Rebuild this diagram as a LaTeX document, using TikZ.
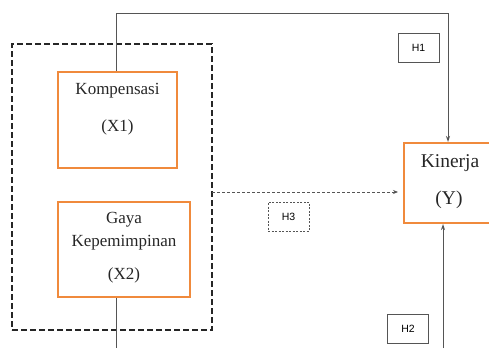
\documentclass[tikz,border=0pt]{standalone}
\usepackage{fontspec}
\setmainfont{Liberation Serif}
\newfontfamily\hfont{Liberation Sans}
\usetikzlibrary{arrows.meta}
\definecolor{boxorange}{HTML}{F08A3C}
\definecolor{linegray}{HTML}{555555}
\tikzset{
  varbox/.style={draw=boxorange, line width=2pt, inner sep=0pt},
  hbox/.style={draw=linegray, line width=0.8pt, inner sep=0pt, minimum width=41pt, minimum height=29pt, font=\hfont\fontsize{10.5}{12}\selectfont},
  conn/.style={draw=linegray, line width=1pt},
  lbl/.style={inner sep=0pt, font=\fontsize{17}{20}\selectfont, text=black!85},
  lblbig/.style={inner sep=0pt, font=\fontsize{19.5}{22}\selectfont, text=black!85},
}
\begin{document}
\begin{tikzpicture}[x=1pt,y=-1pt]
\useasboundingbox (0,0) rectangle (489,348);
% outer dashed group
\node[draw=black!85, line width=2.4pt, dash pattern=on 6pt off 3pt, minimum width=200pt, minimum height=286pt, inner sep=0pt] (grp) at (112,187) {};
% variable boxes
\node[varbox, minimum width=119pt, minimum height=96pt] (komp) at (117.5,120) {};
\node[varbox, minimum width=132pt, minimum height=95pt] (gaya) at (124,249.5) {};
\node[varbox, minimum width=88pt, minimum height=80pt] (kin) at (448,183) {};
% texts
\node[lbl] (t1) at (117.5,91) {Kompensasi};
\node[lbl] (t2) at (117.5,127) {(X1)};
\node[lbl] (t3) at (124,220) {Gaya};
\node[lbl] (t4) at (124,243) {Kepemimpinan};
\node[lbl] (t5) at (124,275) {(X2)};
\node[lblbig] (t6) at (450,163) {Kinerja};
\node[lblbig] (t7) at (449,200) {(Y)};
% hypothesis labels
\node[hbox] (h1) at (418.5,47.5) {H1};
\node[hbox] (h2) at (408,329) {H2};
\node[hbox, dashed, dash pattern=on 2pt off 1.5pt] (h3) at (288.5,216.5) {H3};
% connectors
\coordinate (topleft) at (116,13);
\coordinate (topright) at (448,13);
\draw[conn, -{Stealth[length=6pt,width=4pt]}] (komp.north -| topleft) -- (topleft) -- (topright) -- (kin.north);
\coordinate (gbot) at (116,348);
\draw[conn] (gaya.south -| gbot) -- (gbot);
\coordinate (kbot) at (443,348);
\draw[conn, -{Stealth[length=6pt,width=4pt]}] (kbot) -- (kin.south -| kbot);
\coordinate (dstart) at (212,192);
\coordinate (dend) at (398,192);
\draw[draw=linegray, line width=0.8pt, dash pattern=on 3pt off 2pt, -{Stealth[length=5pt,width=4pt]}] (dstart) -- (dend);
\end{tikzpicture}
\end{document}
